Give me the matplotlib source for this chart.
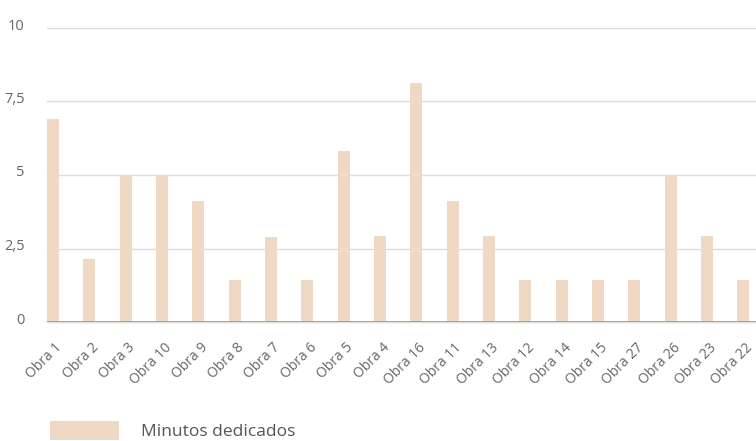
import matplotlib
matplotlib.use("Agg")
import matplotlib.pyplot as plt
import matplotlib.transforms as mtransforms

obras = ["Obra 1", "Obra 2", "Obra 3", "Obra 10", "Obra 9", "Obra 8", "Obra 7",
         "Obra 6", "Obra 5", "Obra 4", "Obra 16", "Obra 11", "Obra 13", "Obra 12",
         "Obra 14", "Obra 15", "Obra 27", "Obra 26", "Obra 23", "Obra 22"]
minutos = [6.9, 2.14, 5, 5, 4.12, 1.43, 2.9, 1.43, 5.83, 2.93, 8.12, 4.12, 2.93,
           1.43, 1.43, 1.43, 1.43, 5, 2.93, 1.43]
y_ticks = [0, 2.5, 5, 7.5, 10]
y_labels = ["0", "2,5", "5", "7,5", "10"]

plt.rcParams['font.family'] = ['Open Sans', 'DejaVu Sans']
bar_color = '#EFD8C4'
text_color = '#666666'

fig = plt.figure(figsize=(7.56, 4.41), dpi=100)
ax = fig.add_axes([47 / 756, 1 - 322 / 441, 1 - 47 / 756, (322 - 28) / 441])

x = list(range(len(obras)))
bw = 0.33
ax.bar(x, minutos, width=bw, color=bar_color, label='Minutos dedicados', zorder=2)

ax.set_xlim(-bw / 2, 19.35)
ax.set_ylim(0, 10)
ax.set_yticks(y_ticks)
ax.set_yticklabels(y_labels)
ax.set_xticks(x)
ax.set_xticklabels(obras, rotation=45, ha='right', rotation_mode='anchor')

for s in ax.spines.values():
    s.set_visible(False)
ax.grid(axis='y', color='#dddddd', linewidth=1, zorder=0)
ax.axhline(0, color='#999999', linewidth=1.2, zorder=3)
for gl in ax.get_ygridlines():
    gl.set_clip_on(False)

ax.tick_params(axis='both', length=0, colors=text_color)
ax.tick_params(axis='y', pad=16, labelsize=10.5)
ax.tick_params(axis='x', pad=13, labelsize=10)

# y labels sit a little above their grid lines
shift = mtransforms.ScaledTranslation(0, 4 / 100, fig.dpi_scale_trans)
for lbl in ax.get_yticklabels():
    lbl.set_transform(lbl.get_transform() + shift)
# x labels end just right of the bar centre
xshift = mtransforms.ScaledTranslation(2 / 100, 0, fig.dpi_scale_trans)
for lbl in ax.get_xticklabels():
    lbl.set_transform(lbl.get_transform() + xshift)

fig.legend(loc='upper left', bbox_to_anchor=(50 / 756, 1 - 421 / 441),
           frameon=False, fontsize=12.5, handlelength=4.0, handleheight=1.3,
           handletextpad=1.25, borderpad=0, borderaxespad=0, labelcolor='#555555')

fig.savefig('out.png', dpi=100)
